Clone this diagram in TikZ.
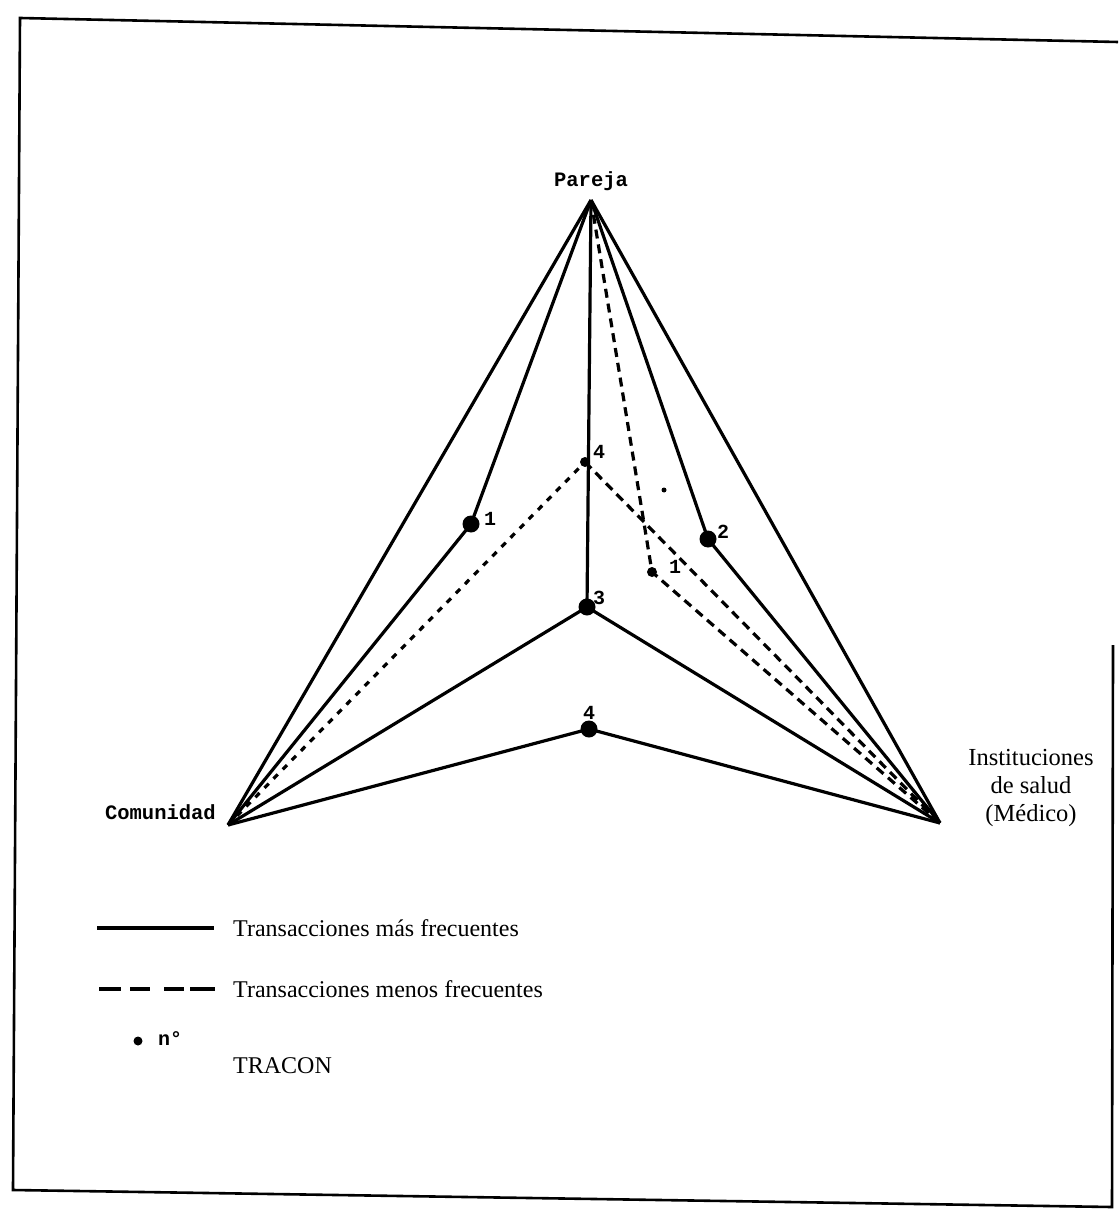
\documentclass[tikz,border=0pt]{standalone}
\usepackage{fontspec}
\setmainfont{Liberation Serif}
\setmonofont{Liberation Mono}
\begin{document}
\begin{tikzpicture}[x=1pt,y=-1pt,
  solidln/.style={line width=3.2pt,line join=round},
  dashln/.style={line width=3.2pt,dash pattern=on 9pt off 6pt},
  dotln/.style={line width=3.2pt,dash pattern=on 6pt off 7pt},
  bigdot/.style={circle,fill=black,inner sep=0pt,minimum size=17pt},
  smalldot/.style={circle,fill=black,inner sep=0pt,minimum size=10pt},
  vtx/.style={inner sep=0pt,minimum size=0pt},
  numlab/.style={font=\ttfamily\bfseries\fontsize{20}{20}\selectfont,inner sep=0pt},
  ttlab/.style={font=\ttfamily\bfseries\fontsize{20.5}{22}\selectfont,inner sep=0pt},
  serlab/.style={font=\fontsize{24}{28}\selectfont,inner sep=0pt,anchor=west}]
\useasboundingbox (0,0) rectangle (1118,1214);
% frame
\coordinate (f1) at (20,18);
\coordinate (f2) at (1118,42);
\coordinate (f3) at (13,1190);
\coordinate (f4) at (1112,1207);
\coordinate (f5) at (1113,645);
\draw[line width=2.6pt] (f2) -- (f1) -- (f3) -- (f4) -- (f5);
% vertices
\node[vtx] (P) at (591,200) {};
\node[vtx] (C) at (228,825) {};
\node[vtx] (I) at (940,823) {};
% inner points
\node[smalldot] (u4) at (585,462) {};
\node[bigdot] (l1) at (471,524) {};
\node[bigdot] (r2) at (708,539) {};
\node[smalldot] (s1) at (652,572) {};
\node[bigdot] (m3) at (587,607) {};
\node[bigdot] (b4) at (589,729) {};
\node[circle,fill=black,inner sep=0pt,minimum size=5pt] (stray) at (664,490) {};
% solid lines
\draw[solidln] (C) -- (P) -- (I) -- cycle;
\draw[solidln] (P.center) -- (l1.center) -- (C.center);
\draw[solidln] (P.center) -- (r2.center) -- (I.center);
\draw[solidln] (P.center) -- (m3.center);
\draw[solidln] (C.center) -- (m3.center) -- (I.center);
\draw[solidln] (C.center) -- (b4.center) -- (I.center);
% dashed lines
\draw[dotln] (C.center) -- (u4.center);
\draw[dashln] (u4.center) -- (I.center);
\draw[dashln] (P.center) -- (s1.center) -- (I.center);
% labels
\node[ttlab] (Plab) at (591,181) {Pareja};
\node[ttlab,anchor=east] (Clab) at (216,812) {Comunidad};
\node[font=\fontsize{24.5}{28}\selectfont,align=center,inner sep=0pt] (Ilab) at (1031,788) {Instituciones\\de salud\\(Médico)};
\node[numlab] (n1) at (490,519) {1};
\node[numlab] (n2) at (723,532) {2};
\node[numlab] (n4u) at (599,452) {4};
\node[numlab] (n1s) at (675,567) {1};
\node[numlab] (n3) at (599,598) {3};
\node[numlab] (n4b) at (589,713) {4};
% legend
\coordinate (la1) at (97,928);
\coordinate (la2) at (214,928);
\draw[line width=3.4pt] (la1) -- (la2);
\node[serlab] (t1) at (233,928) {Transacciones más frecuentes};
\coordinate (lb1) at (99,989);
\coordinate (lb2) at (218,989);
\draw[line width=3.4pt,dash pattern=on 22pt off 9pt on 20pt off 14pt on 20pt off 6pt on 25pt off 100pt] (lb1) -- (lb2);
\node[serlab] (t2) at (233,989) {Transacciones menos frecuentes};
\node[circle,fill=black,inner sep=0pt,minimum size=9pt] (ld) at (138,1041) {};
\node[font=\ttfamily\bfseries\fontsize{20}{20}\selectfont,inner sep=0pt] (lno) at (170,1039) {n°};
\node[serlab] (t3) at (233,1066) {TRACON};
\end{tikzpicture}
\end{document}
